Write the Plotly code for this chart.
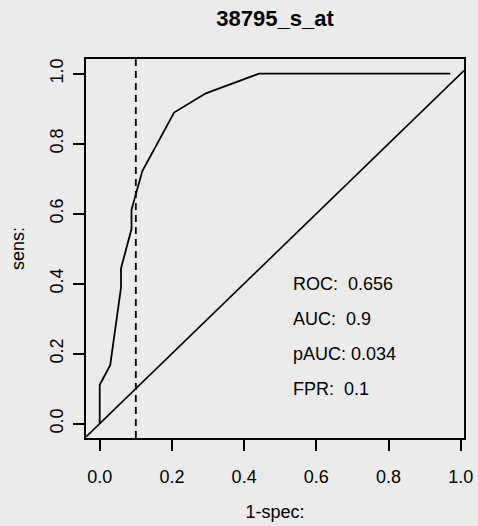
import plotly.graph_objects as go

# ROC curve data (false positive rate vs sensitivity)
fpr = [0.0, 0.0, 0.029, 0.059, 0.059, 0.088, 0.088, 0.118, 0.206, 0.294, 0.441, 0.971]
tpr = [0.0, 0.111, 0.167, 0.389, 0.444, 0.556, 0.611, 0.722, 0.889, 0.944, 1.0, 1.0]

fpr_cutoff = 0.1
stat_labels = ["ROC:\u00a0 0.656", "AUC:\u00a0 0.9", "pAUC: 0.034", "FPR:\u00a0 0.1"]
stat_y = [0.4, 0.3, 0.2, 0.1]
stat_x = 0.53

tick_vals = [0.0, 0.2, 0.4, 0.6, 0.8, 1.0]
tick_text = ["0.0", "0.2", "0.4", "0.6", "0.8", "1.0"]

x_range = [-0.038, 1.009]
y_range = [-0.041, 1.042]

FONT = "Liberation Sans, Arial, Helvetica, sans-serif"
BG = "#EBEBEB"

fig = go.Figure()

# diagonal reference line (abline 0,1) across the axis range
fig.add_trace(go.Scatter(x=x_range, y=x_range, mode="lines",
                         line=dict(color="black", width=1.6),
                         hoverinfo="skip", showlegend=False))

# ROC curve
fig.add_trace(go.Scatter(x=fpr, y=tpr, mode="lines",
                         line=dict(color="black", width=1.8),
                         showlegend=False))

# dashed FPR cutoff
fig.add_vline(x=fpr_cutoff, line=dict(color="black", width=1.8, dash="7px,5px"))

for lab, yy in zip(stat_labels, stat_y):
    fig.add_annotation(x=stat_x, y=yy, text=lab, showarrow=False,
                       xanchor="left", yanchor="middle",
                       font=dict(family=FONT, size=18, color="black"))

axis_common = dict(
    showgrid=False, zeroline=False, automargin=False,
    showline=True, mirror=True, linecolor="black", linewidth=1.8,
    ticks="outside", ticklen=11, tickwidth=1.8, tickcolor="black",
    tickvals=tick_vals, ticktext=tick_text,
    tickfont=dict(family=FONT, size=18, color="black"),
)

fig.update_layout(
    width=478, height=526,
    margin=dict(l=86, r=14, t=59, b=88),
    paper_bgcolor=BG, plot_bgcolor=BG,
    title=dict(text="<b>38795_s_at</b>", x=275 / 478, xanchor="center",
               y=1 - 18.7 / 526, yanchor="middle", yref="container",
               font=dict(family=FONT, size=22, color="black")),
    xaxis=dict(range=x_range, title=dict(text="1-spec:", standoff=20,
               font=dict(family=FONT, size=18, color="black")),
               ticklabelstandoff=10, **axis_common),
    yaxis=dict(range=y_range, tickangle=-90,
               title=dict(text="sens:", standoff=18,
                          font=dict(family=FONT, size=18, color="black")),
               ticklabelstandoff=3, **axis_common),
)

fig.write_html("out.html")
